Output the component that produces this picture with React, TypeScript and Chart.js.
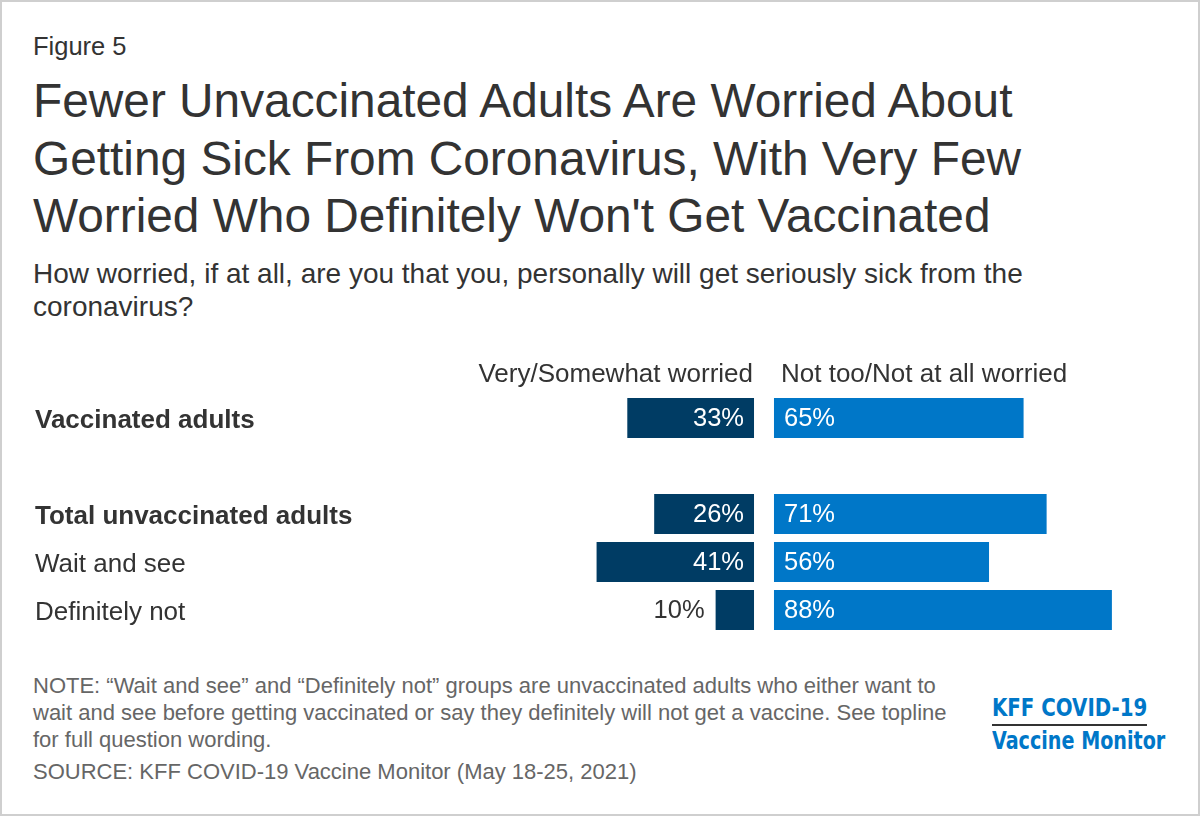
import React, { useEffect, useRef } from 'react';
import { Chart, registerables } from 'chart.js';

Chart.register(...registerables);

// ---- data ----
const categories = ['Vaccinated adults', '', 'Total unvaccinated adults', 'Wait and see', 'Definitely not'];
const boldCategories = ['Vaccinated adults', 'Total unvaccinated adults'];
const seriesNames = ['Very/Somewhat worried', 'Not too/Not at all worried'];
const worried: (number | null)[] = [33, null, 26, 41, 10];
const notWorried: (number | null)[] = [65, null, 71, 56, 88];

const titleLines = [
  'Fewer Unvaccinated Adults Are Worried About',
  'Getting Sick From Coronavirus, With Very Few',
  "Worried Who Definitely Won't Get Vaccinated",
];
const subtitleLines = [
  'How worried, if at all, are you that you, personally will get seriously sick from the',
  'coronavirus?',
];
const noteLines = [
  'NOTE: \u201CWait and see\u201D and \u201CDefinitely not\u201D groups are unvaccinated adults who either want to',
  'wait and see before getting vaccinated or say they definitely will not get a vaccine. See topline',
  'for full question wording.',
];
const sourceLine = 'SOURCE: KFF COVID-19 Vaccine Monitor (May 18-25, 2021)';

// ---- style ----
const FONT = '"Liberation Sans", Arial, Helvetica, sans-serif';
const DARK = '#003c64';
const BLUE = '#0077c8';
const TEXT = '#333333';
const GAP = 2.6; // half gap between the two sides, in value units
const X_MIN = -103.906;
const X_MAX = 109.375;

const labelPlugin = {
  id: 'divergingLabels',
  afterDatasetsDraw(chart: any) {
    const { ctx, chartArea, scales } = chart;
    const x = scales.x;
    const y = scales.y;
    ctx.save();
    ctx.font = `25.5px ${FONT}`;
    ctx.textBaseline = 'middle';
    const innerL = x.getPixelForValue(-GAP);
    const innerR = x.getPixelForValue(GAP);
    worried.forEach((v, i) => {
      if (v == null) return;
      const yc = y.getPixelForValue(i) + 1;
      const outer = x.getPixelForValue(-(v + GAP));
      const txt = `${v}%`;
      const w = ctx.measureText(txt).width;
      ctx.textAlign = 'right';
      if (innerL - outer > w + 18) {
        ctx.fillStyle = '#ffffff';
        ctx.fillText(txt, innerL - 10, yc);
      } else {
        ctx.fillStyle = TEXT;
        ctx.fillText(txt, outer - 11, yc);
      }
    });
    notWorried.forEach((v, i) => {
      if (v == null) return;
      const yc = y.getPixelForValue(i) + 1;
      const outer = x.getPixelForValue(v + GAP);
      const txt = `${v}%`;
      const w = ctx.measureText(txt).width;
      ctx.textAlign = 'left';
      if (outer - innerR > w + 18) {
        ctx.fillStyle = '#ffffff';
        ctx.fillText(txt, innerR + 10, yc);
      } else {
        ctx.fillStyle = TEXT;
        ctx.fillText(txt, outer + 10, yc);
      }
    });
    // column headers
    ctx.font = `26px ${FONT}`;
    ctx.textBaseline = 'alphabetic';
    ctx.fillStyle = TEXT;
    ctx.textAlign = 'right';
    ctx.fillText(seriesNames[0], innerL - 1, chartArea.top - 12);
    ctx.textAlign = 'left';
    ctx.fillText(seriesNames[1], innerR + 7, chartArea.top - 12);
    ctx.restore();
  },
};

function DivergingChart() {
  const ref = useRef<HTMLCanvasElement | null>(null);
  useEffect(() => {
    if (!ref.current) return;
    const chart = new Chart(ref.current, {
      type: 'bar',
      data: {
        labels: categories,
        datasets: [
          {
            label: seriesNames[0],
            data: worried.map((v) => (v == null ? null : [-(v + GAP), -GAP])) as any,
            backgroundColor: DARK,
            grouped: false,
            barPercentage: 1,
            categoryPercentage: 40 / 48,
          },
          {
            label: seriesNames[1],
            data: notWorried.map((v) => (v == null ? null : [GAP, v + GAP])) as any,
            backgroundColor: BLUE,
            grouped: false,
            barPercentage: 1,
            categoryPercentage: 40 / 48,
          },
        ],
      },
      options: {
        indexAxis: 'y',
        animation: false,
        responsive: true,
        maintainAspectRatio: false,
        layout: { padding: { left: 35, right: 16, top: 54, bottom: 20 } },
        plugins: {
          legend: { display: false },
          tooltip: { enabled: false },
          title: { display: false },
        },
        scales: {
          x: {
            display: false,
            min: X_MIN,
            max: X_MAX,
            grid: { display: false },
          },
          y: {
            afterFit: (scale: any) => {
              scale.width = 330;
            },
            grid: { display: false, drawTicks: false },
            border: { display: false },
            ticks: {
              crossAlign: 'far',
              padding: 0,
              labelOffset: 2.5,
              color: TEXT,
              font: (ctx: any) => {
                const lbl = categories[ctx.index];
                return {
                  family: FONT,
                  size: 26,
                  weight: boldCategories.includes(lbl) ? 'bold' : 'normal',
                };
              },
            },
          },
        },
      },
      plugins: [labelPlugin],
    } as any);
    return () => chart.destroy();
  }, []);
  return (
    <div style={{ position: 'absolute', left: 0, top: 340, width: 1200, height: 314 }}>
      <canvas ref={ref} />
    </div>
  );
}

export default function App() {
  useEffect(() => {
    document.body.style.margin = '0';
  }, []);
  const abs = (top: number, extra: React.CSSProperties = {}): React.CSSProperties => ({
    position: 'absolute',
    left: 33,
    top,
    whiteSpace: 'nowrap',
    fontFamily: FONT,
    color: TEXT,
    margin: 0,
    ...extra,
  });
  const logoFont: React.CSSProperties = {
    fontFamily: '"DejaVu Sans Condensed", "DejaVu Sans", sans-serif',
    fontStretch: 'condensed',
    fontWeight: 'bold',
    color: BLUE,
    fontSize: 24,
    lineHeight: '30px',
    whiteSpace: 'nowrap',
    transformOrigin: 'left top',
  };
  return (
    <div style={{ position: 'relative', width: 1200, height: 816, background: '#fff', overflow: 'hidden' }}>
      <style>{'body{margin:0}'}</style>
      <div style={abs(31, { fontSize: 25.5, lineHeight: '30px' })}>Figure 5</div>
      <div style={abs(72.3, { fontSize: 47.8, lineHeight: '57.6px' })}>
        {titleLines.map((l, i) => (
          <div key={i}>{l}</div>
        ))}
      </div>
      <div style={abs(257, { fontSize: 28, lineHeight: '33px' })}>
        {subtitleLines.map((l, i) => (
          <div key={i}>{l}</div>
        ))}
      </div>
      <DivergingChart />
      <div style={abs(672, { fontSize: 22, lineHeight: '27px', color: '#666' })}>
        {noteLines.map((l, i) => (
          <div key={i}>{l}</div>
        ))}
        <div style={{ marginTop: 5 }}>{sourceLine}</div>
      </div>
      <div style={{ position: 'absolute', left: 992, top: 692.7 }}>
        <div style={{ ...logoFont, transform: 'scaleX(0.917)', height: 33 }}>
          <span style={{ borderBottom: '2px solid #333', display: 'inline-block', paddingBottom: 1, lineHeight: '30px' }}>
            KFF COVID-19
          </span>
        </div>
        <div style={{ ...logoFont, transform: 'scaleX(0.887)' }}>Vaccine Monitor</div>
      </div>
      <div
        style={{
          position: 'absolute',
          inset: 0,
          border: '2px solid #cfcfcf',
          boxSizing: 'border-box',
          pointerEvents: 'none',
        }}
      />
    </div>
  );
}
